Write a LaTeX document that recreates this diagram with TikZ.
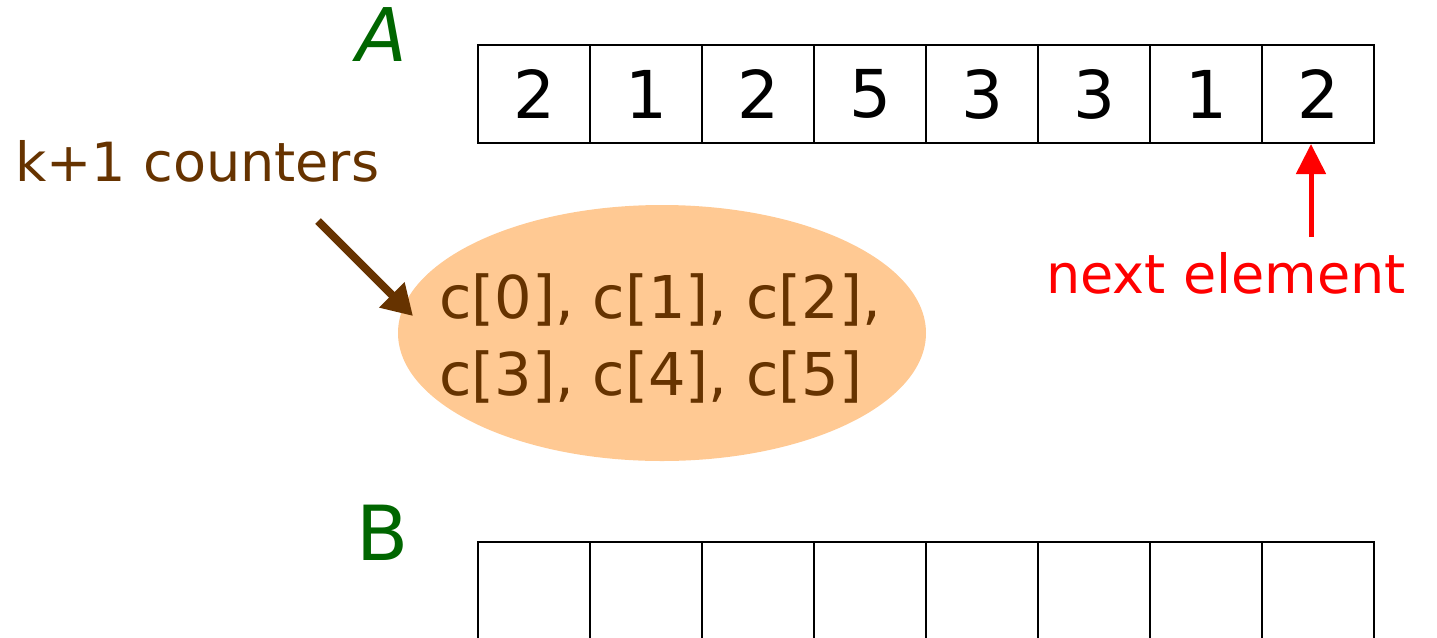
\documentclass[tikz,border=0pt]{standalone}
\usepackage{fontspec}
\setmainfont{DejaVu Sans}
\usetikzlibrary{shapes.geometric, arrows.meta, positioning, calc}
\definecolor{leafgreen}{HTML}{006600}
\definecolor{cocoa}{HTML}{663300}
\definecolor{peach}{HTML}{FFC993}
\definecolor{signal}{HTML}{FF0000}

\tikzset{
  cell/.style={draw=black, line width=1pt, minimum width=56pt, minimum height=49pt, inner sep=0pt,
    font=\fontsize{33}{40}\selectfont},
  arrlabel/.style={text=leafgreen, font=\fontsize{38}{44}\selectfont, anchor=base},
  note/.style={anchor=base west, inner sep=0pt, font=\fontsize{27}{32}\selectfont}
}

\begin{document}
\begin{tikzpicture}[x=0.5pt, y=-0.5pt]
    \useasboundingbox (0,0) rectangle (1437,638);
    % Array A
    \node[arrlabel, font=\fontsize{37}{44}\selectfont\itshape] (labA) at (382,61) {A};
    \foreach \v [count=\i] in {2,1,2,5,3,3,1,2}
        \node[cell] (a\i) at ({534+112*(\i-1)},94) {\v};

    % Array B
    \node[arrlabel] (labB) at (383,560) {B};
    \foreach \i in {1,...,8}
        \node[cell] (b\i) at ({534+112*(\i-1)},591) {};

    % Counters
    \node[ellipse, fill=peach, minimum width=264pt, minimum height=128pt, inner sep=0pt] (ctr) at (662,333) {};
    \node[text=cocoa, align=left, inner sep=0pt, font=\fontsize{29.5}{38.5}\selectfont] (cval) at (660,338)
          {c[0], c[1], c[2],\\c[3], c[4], c[5]};
    \node[note, text=cocoa] (cnt) at (15,181) {k+1 counters};
    \coordinate (cnttail) at (318,221);
    \coordinate (cnttip) at (413,316);
    \draw[-{Triangle[length=15pt, width=17pt]}, cocoa, line width=4pt] (cnttail) -- (cnttip);

    % Next element
    \node[note, text=signal] (nxt) at (1046,293) {next element};
    \coordinate (nxttail) at (1311,237);
    \draw[-{Triangle[length=15pt, width=14.5pt]}, signal, line width=2.5pt] (nxttail) -- (nxttail |- a8.south);
\end{tikzpicture}
\end{document}
